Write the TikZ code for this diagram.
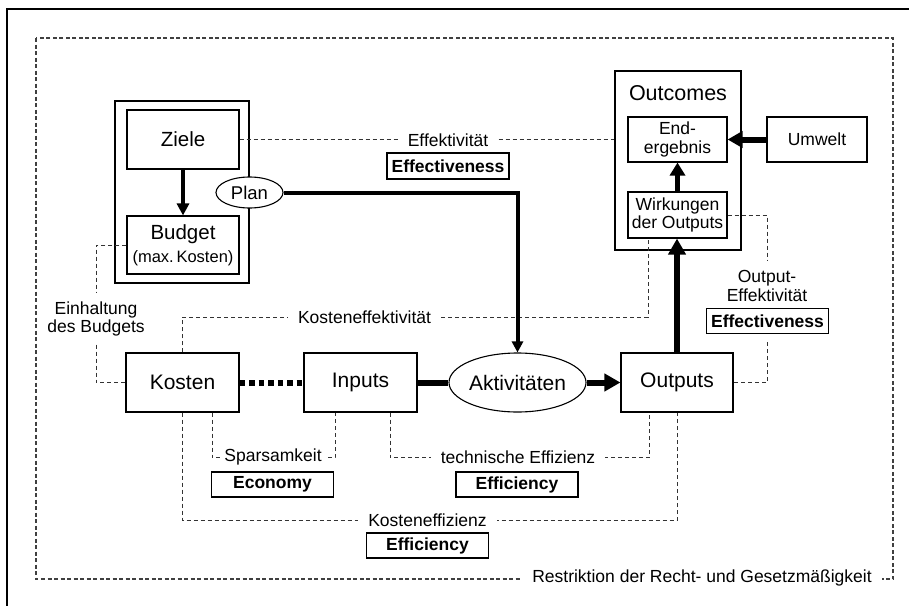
\documentclass[tikz,border=0pt]{standalone}
\usepackage{fontspec}
\setmainfont{Liberation Sans}
\usetikzlibrary{arrows.meta,shapes.geometric}
\begin{document}
\begin{tikzpicture}[x=1pt,y=-1pt,
 box/.style={draw,line width=1.1pt,inner sep=0pt,align=center},
 big/.style={font=\fontsize{21}{23}\selectfont},
 mid/.style={font=\fontsize{20.5}{23}\selectfont},
 sml/.style={font=\fontsize{17.5}{18.5}\selectfont},
 tag/.style={draw,line width=1.8pt,inner sep=0pt,minimum width=122pt,minimum height=25pt,font=\bfseries\fontsize{17.5}{18.5}\selectfont},
 lbl/.style={fill=white,inner ysep=1pt,inner xsep=10pt,font=\fontsize{17.5}{18.5}\selectfont,align=center},
 dl/.style={dash pattern=on 4pt off 3pt,line width=0.8pt,black!80},
 dlo/.style={dash pattern=on 4pt off 2.5pt,line width=1.1pt,black!75},
 headbig/.style={-{Triangle[length=16pt,width=17pt]}},
]
\useasboundingbox (0,0) rectangle (909,605);
% outer frame
\draw[line width=1.3pt] (7,612) -- (7,9) -- (916,9);
% dashed restriction frame
\draw[dlo] (36,38) rectangle (893,579);
\node[lbl,inner xsep=10pt] (restr) at (702,578) {Restriktion der Recht- und Gesetzmäßigkeit};

% boxes
\node[box,minimum width=134pt,minimum height=182pt] (zbox) at (182,192) {};
\node[box,mid,minimum width=112pt,minimum height=59pt] (ziele) at (183,139.5) {Ziele};
\node[box,mid,minimum width=112pt,minimum height=58pt] (budget) at (183,245) {Budget\\{\fontsize{16.5}{18}\selectfont(max.\,Kosten)}};
\node[draw,ellipse,fill=white,line width=1.1pt,inner sep=0pt,minimum width=67pt,minimum height=31pt,font=\fontsize{18.5}{20}\selectfont] (plan) at (249.5,192.5) {Plan};

\node[box,big,minimum width=113pt,minimum height=59pt] (kosten) at (182.5,382.5) {Kosten};
\node[box,big,minimum width=113pt,minimum height=59pt] (inputs) at (360.5,382.5) {Inputs};
\node[box,big,minimum width=112pt,minimum height=59pt] (outputs) at (677,382.5) {Outputs};
\node[draw,ellipse,line width=1.1pt,big,minimum width=125pt,minimum height=59pt,inner sep=0pt] (akt) at (517.5,382.5) {Aktivitäten};

\node[box,minimum width=126pt,minimum height=179pt] (outc) at (678,160.5) {};
\node[font=\fontsize{21.5}{23}\selectfont] (outclbl) at (678,93) {Outcomes};
\node[box,sml,minimum width=99pt,minimum height=45pt] (end) at (677.5,139.5) {End-\\ergebnis};
\node[box,sml,minimum width=99pt,minimum height=46pt] (wirk) at (677.5,215) {Wirkungen\\der Outputs};
\node[box,sml,minimum width=100pt,minimum height=45pt] (umwelt) at (817,139.5) {Umwelt};

% tags
\node[tag,minimum height=26pt] (eff1) at (448,166) {Effectiveness};
\node[tag] (econ) at (272.5,484.5) {Economy};
\node[tag] (effi1) at (517,484.5) {Efficiency};
\node[tag] (effi2) at (427.5,545.5) {Efficiency};
\node[tag] (eff2) at (767.5,321) {Effectiveness};

% dashed relations
\draw[dl] (ziele.east) -- (outc.west |- ziele.east);
\node[lbl] (l1) at (448,140) {Effektivität};

\node[sml,align=center,inner xsep=0pt,inner ysep=8pt] (einh) at (96,319) {Einhaltung\\des Budgets};
\draw[dl] (budget.west) -| (einh.north);
\draw[dl] (einh.south) |- (kosten.west);

\coordinate (ke) at (648,317);
\draw[dl] (kosten.north) |- (ke) -- (ke |- wirk.south);
\node[lbl] (l2) at (364.5,317) {Kosteneffektivität};

\draw[dl] ([xshift=29.5pt]kosten.south) -- ++(0,45) -| ([xshift=-25.5pt]inputs.south);
\node[lbl,inner xsep=3pt] (l3) at (273,457) {Sparsamkeit};

\draw[dl] ([xshift=29.5pt]inputs.south) -- ++(0,45) -| ([xshift=-28pt]outputs.south);
\node[lbl] (l4) at (518,457) {technische Effizienz};

\draw[dl] (kosten.south) -- ++(0,108) -| (outputs.south);
\node[lbl] (l5) at (427.5,520) {Kosteneffizienz};

\node[sml,align=center,inner xsep=0pt,inner ysep=9pt] (oe) at (767,286) {Output-\\Effektivität};
\draw[dl] (wirk.east) -| (oe.north);
\draw[dl] ([yshift=-8pt]eff2.south) |- (outputs.east);

% solid arrows
\draw[line width=3.5pt,-{Triangle[length=12pt,width=12pt]}] (ziele.south) -- (budget.north);
\draw[line width=4pt,miter limit=10,-{Triangle[length=11pt,width=11pt]}] (plan.east) -| (akt.north);
\draw[line width=6pt,dash pattern=on 5.5pt off 4pt] (kosten.east) -- (inputs.west);
\draw[line width=6pt] (inputs.east) -- (akt.west);
\draw[line width=6pt,headbig] (akt.east) -- (outputs.west);
\draw[line width=5.5pt,headbig] (outputs.north) -- (outputs.north |- wirk.south);
\draw[line width=5pt,-{Triangle[length=13pt,width=15pt]}] (wirk.north) -- (end.south);
\draw[line width=6pt,-{Triangle[length=15pt,width=16pt]}] (umwelt.west) -- (end.east);
\end{tikzpicture}
\end{document}
